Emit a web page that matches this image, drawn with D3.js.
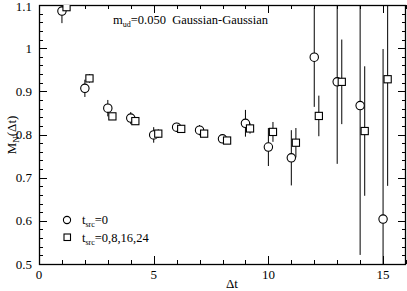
<!DOCTYPE html>
<meta charset="utf-8">
<script src="https://cdnjs.cloudflare.com/ajax/libs/d3/7.8.5/d3.min.js"></script>
<style>
body { margin: 0; background: #fff; }
text { font-family: "Liberation Serif", "DejaVu Serif", serif; }
</style>
<body>
<script>
var w = 407, h = 291;

// t_src = 0 (circles)
var circX   = [1, 2, 3, 4, 5, 6, 7, 8, 9, 10, 11, 12, 13, 14, 15];
var circY   = [1.086, 0.907, 0.861, 0.838, 0.799, 0.817, 0.810, 0.790, 0.826, 0.771, 0.746, 0.979, 0.922, 0.867, 0.604];
var circErr = [0.028, 0.020, 0.019, 0.014, 0.018, 0.010, 0.012, 0.010, 0.031, 0.044, 0.064, 0.115, 0.190, 0.346, 0.394];

// t_src = 0,8,16,24 (squares)
var sqX   = [1.2, 2.2, 3.2, 4.2, 5.2, 6.2, 7.2, 8.2, 9.2, 10.2, 11.2, 12.2, 13.2, 14.2, 15.2];
var sqY   = [1.095, 0.930, 0.842, 0.831, 0.802, 0.813, 0.802, 0.786, 0.814, 0.806, 0.781, 0.843, 0.922, 0.808, 0.928];
var sqErr = [0.006, 0.010, 0.008, 0.008, 0.010, 0.007, 0.008, 0.007, 0.012, 0.023, 0.034, 0.047, 0.098, 0.150, 0.247];

var xTicks = [0, 5, 10, 15];
var yTicks = [0.5, 0.6, 0.7, 0.8, 0.9, 1.0, 1.1];
var yTickLabels = ["0.5", "0.6", "0.7", "0.8", "0.9", "1", "1.1"];

var pLeft = 39, pRight = 406, pTop = 5, pBottom = 264;

var svg = d3.select("body").append("svg")
    .attr("width", w)
    .attr("height", h);

var xScale = d3.scaleLinear().domain([0, 16]).range([pLeft, pRight]);
var yScale = d3.scaleLinear().domain([0.5, 1.1]).range([pBottom, pTop]);

svg.append("defs").append("clipPath").attr("id", "clip")
  .append("rect")
  .attr("x", pLeft).attr("y", pTop)
  .attr("width", pRight - pLeft).attr("height", pBottom - pTop);

// ticks on all four sides, pointing in
var xMinor = d3.range(0, 17, 1);
var yMinor = d3.range(0, 31).map(function(i){ return 0.5 + i * 0.02; });

function addTicks(vals, len, isX) {
  vals.forEach(function(v) {
    if (isX) {
      var x = Math.round(xScale(v)) + 0.5;
      svg.append("line").attr("x1", x).attr("x2", x).attr("y1", pBottom).attr("y2", pBottom - len).attr("stroke", "#000");
      svg.append("line").attr("x1", x).attr("x2", x).attr("y1", pTop).attr("y2", pTop + len).attr("stroke", "#000");
    } else {
      var y = Math.round(yScale(v)) + 0.5;
      svg.append("line").attr("x1", pLeft).attr("x2", pLeft + len).attr("y1", y).attr("y2", y).attr("stroke", "#000");
      svg.append("line").attr("x1", pRight).attr("x2", pRight - len).attr("y1", y).attr("y2", y).attr("stroke", "#000");
    }
  });
}
addTicks(xMinor, 4, true);
addTicks(xTicks, 8, true);
addTicks(yMinor, 4, false);
addTicks(yTicks, 8, false);

// frame
svg.append("rect")
  .attr("x", pLeft + 0.5).attr("y", pTop + 0.5)
  .attr("width", pRight - pLeft - 1).attr("height", pBottom - pTop)
  .attr("fill", "none").attr("stroke", "#000").attr("stroke-width", 1.3);

// tick labels
svg.selectAll(".xl").data(xTicks).enter().append("text")
  .attr("x", function(d){ return xScale(d); })
  .attr("y", 279)
  .attr("text-anchor", "middle")
  .style("font-size", "13px")
  .text(function(d){ return d; });

svg.selectAll(".yl").data(yTicks).enter().append("text")
  .attr("x", 32)
  .attr("y", function(d){ return Math.max(yScale(d) + 4.5, 11); })
  .attr("text-anchor", "end")
  .style("font-size", "13px")
  .text(function(d, i){ return yTickLabels[i]; });

// axis titles
svg.append("text")
  .attr("x", 232).attr("y", 288)
  .attr("text-anchor", "middle")
  .style("font-size", "13px")
  .text("\u0394t");

var yl = svg.append("text")
  .attr("transform", "translate(16,135) rotate(-90)")
  .attr("text-anchor", "middle")
  .style("font-size", "13px");
yl.append("tspan").text("M");
yl.append("tspan").attr("dy", 3).style("font-size", "9px").text("N");
yl.append("tspan").attr("dy", -3).text("(\u0394t)");

// annotation
var ann = svg.append("text").attr("x", 113).attr("y", 24).style("font-size", "12.5px");
ann.append("tspan").text("m");
ann.append("tspan").attr("dy", 3).style("font-size", "8px").text("ud");
ann.append("tspan").attr("dy", -3).text("=0.050  Gaussian-Gaussian").style("white-space", "pre");

// data
var g = svg.append("g").attr("clip-path", "url(#clip)");

var circData = circX.map(function(x, i){ return {x: x, y: circY[i], e: circErr[i]}; });
var sqData = sqX.map(function(x, i){ return {x: x, y: sqY[i], e: sqErr[i]}; });

g.selectAll(".ce").data(circData).enter().append("line")
  .attr("x1", function(d){ return xScale(d.x); })
  .attr("x2", function(d){ return xScale(d.x); })
  .attr("y1", function(d){ return yScale(d.y + d.e); })
  .attr("y2", function(d){ return yScale(d.y - d.e); })
  .attr("stroke", "#000").attr("stroke-width", 1);

g.selectAll(".se").data(sqData).enter().append("line")
  .attr("x1", function(d){ return xScale(d.x); })
  .attr("x2", function(d){ return xScale(d.x); })
  .attr("y1", function(d){ return yScale(d.y + d.e); })
  .attr("y2", function(d){ return yScale(d.y - d.e); })
  .attr("stroke", "#000").attr("stroke-width", 1);

g.selectAll(".c").data(circData).enter().append("circle")
  .attr("cx", function(d){ return xScale(d.x); })
  .attr("cy", function(d){ return yScale(d.y); })
  .attr("r", 4.2)
  .attr("fill", "#fff").attr("stroke", "#000").attr("stroke-width", 1.1);

g.selectAll(".s").data(sqData).enter().append("rect")
  .attr("x", function(d){ return xScale(d.x) - 3.6; })
  .attr("y", function(d){ return yScale(d.y) - 3.6; })
  .attr("width", 7.2).attr("height", 7.2)
  .attr("fill", "#fff").attr("stroke", "#000").attr("stroke-width", 1.1);

// legend
svg.append("circle").attr("cx", 67).attr("cy", 220).attr("r", 3.6)
  .attr("fill", "#fff").attr("stroke", "#000").attr("stroke-width", 1.1);
svg.append("rect").attr("x", 64).attr("y", 234).attr("width", 6.5).attr("height", 6.5)
  .attr("fill", "#fff").attr("stroke", "#000").attr("stroke-width", 1.1);

function legendText(y, rest) {
  var t = svg.append("text").attr("x", 82).attr("y", y).style("font-size", "12.5px");
  t.append("tspan").text("t");
  t.append("tspan").attr("dy", 3).style("font-size", "8px").text("src");
  t.append("tspan").attr("dy", -3).text(rest);
}
legendText(224, "=0");
legendText(242, "=0,8,16,24");
</script>
</body>
</html>
